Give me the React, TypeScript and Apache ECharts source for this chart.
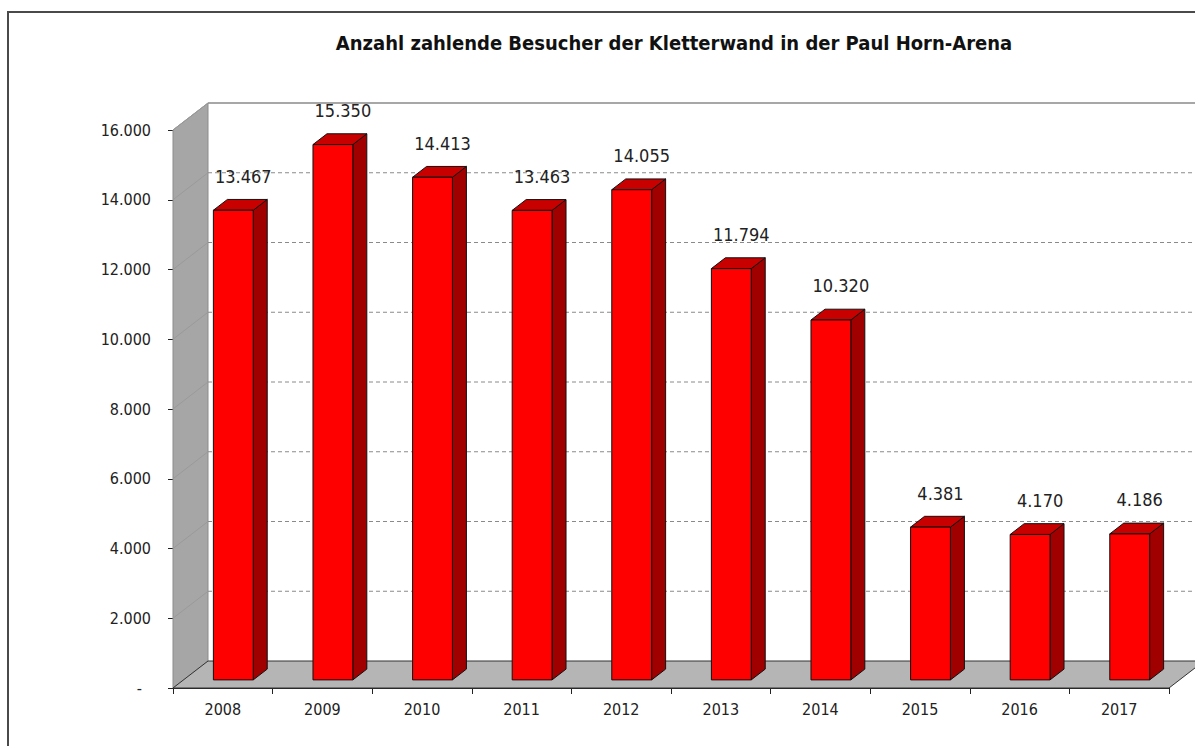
import React, { useEffect, useRef } from "react";
import * as echarts from "echarts";

const years = ["2008", "2009", "2010", "2011", "2012", "2013", "2014", "2015", "2016", "2017"];
const visitors = [13467, 15350, 14413, 13463, 14055, 11794, 10320, 4381, 4170, 4186];
const titleText = "Anzahl zahlende Besucher der Kletterwand in der Paul Horn-Arena";
const yMin = 0;
const yMax = 16000;
const yStep = 2000;

const DEPTH_X = 35;
const DEPTH_Y = -27;
const FONT = "'DejaVu Sans Condensed', 'DejaVu Sans', sans-serif";

function fmt(v: number): string {
  return String(Math.round(v)).replace(/\B(?=(\d{3})+(?!\d))/g, ".");
}

export default function App() {
  const ref = useRef<HTMLDivElement>(null);
  useEffect(() => {
    if (!ref.current) return;
    const chart = echarts.init(ref.current, undefined, { renderer: "svg" });
    const gridTicks: number[] = [];
    for (let v = yMin + yStep; v <= yMax; v += yStep) gridTicks.push(v);

    const option: any = {
      animation: false,
      backgroundColor: "#ffffff",
      graphic: [
        {
          type: "rect",
          shape: { x: 8, y: 12, width: 1210, height: 760 },
          style: { fill: "none", stroke: "#4a4a4a", lineWidth: 2 },
          silent: true,
        },
        {
          type: "text",
          x: 674,
          y: 43,
          style: {
            text: titleText,
            fill: "#111",
            font: "bold 20px " + FONT,
            align: "center",
            verticalAlign: "middle",
          },
        },
      ],
      grid: { left: 173, top: 130, width: 996, height: 558 },
      xAxis: {
        type: "category",
        data: years,
        boundaryGap: true,
        axisLine: { show: true, lineStyle: { color: "#222", width: 1 } },
        axisTick: { show: true, length: 6, alignWithLabel: false, lineStyle: { color: "#222" } },
        axisLabel: { color: "#222", fontSize: 16, fontFamily: FONT, margin: 13 },
        splitLine: { show: false },
      },
      yAxis: {
        type: "value",
        min: yMin,
        max: yMax,
        interval: yStep,
        axisLine: { show: true, lineStyle: { color: "#222", width: 1 } },
        axisTick: { show: true, length: 5, lineStyle: { color: "#222" } },
        splitLine: { show: false },
        axisLabel: {
          color: "#222",
          fontSize: 16,
          fontFamily: FONT,
          margin: 22,
          formatter: (v: number) => (v === 0 ? "{z|-}" : fmt(v)),
          rich: { z: { color: "#222", fontSize: 16, fontFamily: FONT, padding: [0, 9, 0, 0] } },
        },
      },
      series: [
        {
          type: "custom",
          name: "walls",
          z: 1,
          silent: true,
          clip: false,
          data: [[0, 0]],
          renderItem: (params: any, api: any) => {
            const cs = params.coordSys;
            const x0 = cs.x;
            const x1 = cs.x + cs.width;
            const yt = cs.y;
            const yb = cs.y + cs.height;
            const dx = DEPTH_X;
            const dy = DEPTH_Y;
            const children: any[] = [];
            // back wall (white)
            children.push({
              type: "polygon",
              shape: { points: [[x0 + dx, yt + dy], [x1 + dx + 40, yt + dy], [x1 + dx + 40, yb + dy], [x0 + dx, yb + dy]] },
              style: { fill: "#ffffff", stroke: "none" },
            });
            // left wall
            children.push({
              type: "polygon",
              shape: { points: [[x0, yt], [x0 + dx, yt + dy], [x0 + dx, yb + dy], [x0, yb]] },
              style: { fill: "#a6a6a6", stroke: "#8c8c8c", lineWidth: 1 },
            });
            // floor
            children.push({
              type: "polygon",
              shape: { points: [[x0, yb], [x0 + dx, yb + dy], [x1 + dx, yb + dy], [x1, yb]] },
              style: { fill: "#b5b5b5", stroke: "#333", lineWidth: 1 },
            });
            gridTicks.forEach((v) => {
              const y = api.coord([0, v])[1];
              const top = v === yMax;
              children.push({
                type: "line",
                shape: { x1: x0 + dx, y1: y + dy, x2: x1 + dx + 40, y2: y + dy },
                style: top
                  ? { stroke: "#8a8a8a", lineWidth: 1.5 }
                  : { stroke: "#8a8a8a", lineWidth: 1, lineDash: [4, 3] },
              });
              children.push({
                type: "line",
                shape: { x1: x0, y1: y, x2: x0 + dx, y2: y + dy },
                style: { stroke: "#9a9a9a", lineWidth: 1 },
              });
            });
            return { type: "group", children };
          },
        },
        {
          type: "custom",
          name: "Besucher",
          z: 3,
          clip: false,
          encode: { x: 0, y: 1 },
          data: visitors.map((v, i) => [i, v]),
          renderItem: (params: any, api: any) => {
            const i = api.value(0);
            const v = api.value(1);
            const base = api.coord([i, 0]);
            const topPt = api.coord([i, v]);
            const cw = api.size([1, 0])[0];
            const w = cw * 0.4;
            const f0 = 0.3;
            const f1 = 0.7;
            const fx = base[0] - w / 2 + f0 * DEPTH_X;
            const fy0 = base[1] + f0 * DEPTH_Y;
            const fy1 = topPt[1] + f0 * DEPTH_Y;
            const ddx = (f1 - f0) * DEPTH_X;
            const ddy = (f1 - f0) * DEPTH_Y;
            const stroke = { stroke: "#111", lineWidth: 1, lineJoin: "round" };
            return {
              type: "group",
              children: [
                {
                  type: "polygon",
                  shape: { points: [[fx + w, fy1], [fx + w + ddx, fy1 + ddy], [fx + w + ddx, fy0 + ddy], [fx + w, fy0]] },
                  style: { fill: "#a00000", ...stroke },
                },
                {
                  type: "polygon",
                  shape: { points: [[fx, fy1], [fx + ddx, fy1 + ddy], [fx + w + ddx, fy1 + ddy], [fx + w, fy1]] },
                  style: { fill: "#c80000", ...stroke },
                },
                {
                  type: "polygon",
                  shape: { points: [[fx, fy1], [fx + w, fy1], [fx + w, fy0], [fx, fy0]] },
                  style: { fill: "#ff0000", ...stroke },
                },
                {
                  type: "text",
                  x: fx + w / 2 + 10,
                  y: fy1 - 34,
                  style: {
                    text: fmt(v),
                    fill: "#222",
                    fontSize: 18,
                    fontFamily: FONT,
                    align: "center",
                    verticalAlign: "middle",
                  },
                },
              ],
            };
          },
        },
      ],
    };
    chart.setOption(option);
    return () => chart.dispose();
  }, []);
  return (
    <div
      ref={ref}
      style={{ position: "fixed", left: 0, top: 0, width: 1195, height: 746 }}
    />
  );
}
